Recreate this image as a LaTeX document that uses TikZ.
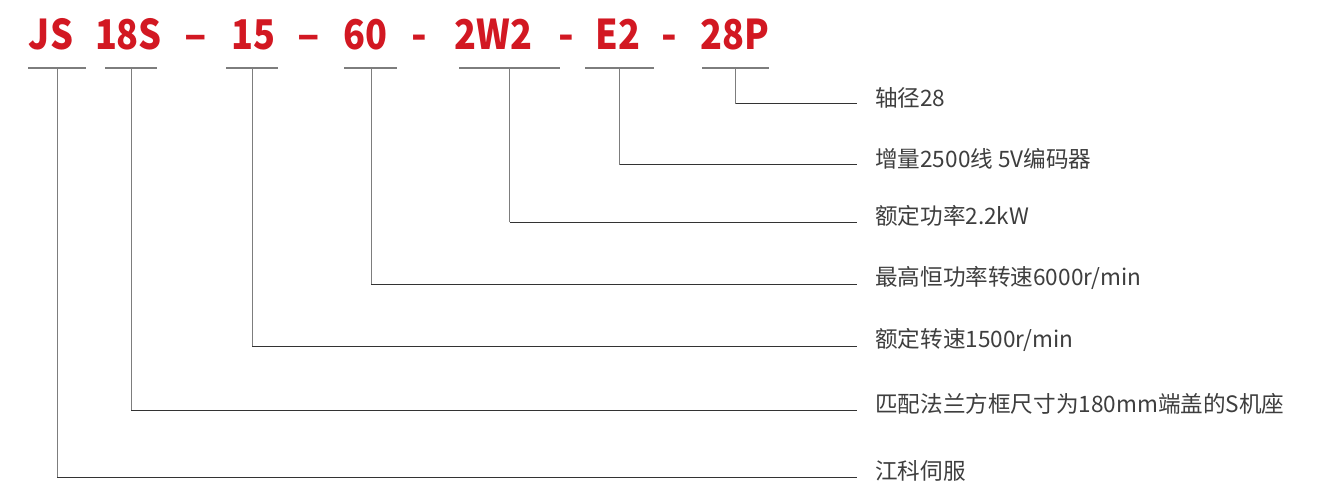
\documentclass[tikz,border=0pt]{standalone}
\usepackage{fontspec}
\usepackage{graphicx}
\usetikzlibrary{positioning}
\newfontfamily\cjk{Noto Sans CJK SC}
\definecolor{codered}{RGB}{210,24,34}
\definecolor{labelgray}{RGB}{62,62,62}
\definecolor{rulegray}{RGB}{125,125,125}
\newcommand{\narrow}[1]{\scalebox{0.88}[1]{#1}}

\begin{document}
\begin{tikzpicture}[x=1pt,y=-1pt,
    code/.style={anchor=base,inner sep=0pt,text=codered,font=\cjk\bfseries\fontsize{41}{41}\selectfont},
    lbl/.style={anchor=west,inner sep=0pt,text=labelgray,font=\cjk\fontsize{22.6}{22.6}\selectfont},
    under/.style={rulegray,line width=1.5pt},
    drop/.style={rulegray,line width=1pt},
    lead/.style={black!80,line width=1pt}]
    \useasboundingbox (0,0) rectangle (1319,497);

    % Model code
    \node[code] (cjs)  at (51,50)    {\narrow{JS}};
    \node[code] (cfr)  at (128.5,50) {\narrow{18S}};
    \node[code] (d1)   at (195.5,50) {–};
    \node[code] (crs)  at (253.5,50) {\narrow{15}};
    \node[code] (d2)   at (309,50)   {–};
    \node[code] (cmx)  at (365.5,50) {\narrow{60}};
    \node[code] (d3)   at (419.5,50) {-};
    \node[code] (cpw)  at (493.5,50) {\narrow{2W2}};
    \node[code] (d4)   at (566.5,50) {-};
    \node[code] (cenc) at (618,50)   {\narrow{E2}};
    \node[code] (d5)   at (669.5,50) {-};
    \node[code] (csh)  at (735,50)   {\narrow{28P}};

    % Underlines
    \draw[under] (28,68) -- (86,68);
    \draw[under] (105,68) -- (157,68);
    \draw[under] (226,68) -- (278,68);
    \draw[under] (344,68) -- (397,68);
    \draw[under] (459,68) -- (560,68);
    \draw[under] (585,68) -- (654,68);
    \draw[under] (702,68) -- (769,68);
    \coordinate (ujs)  at (57,68);
    \coordinate (ufr)  at (131,68);
    \coordinate (urs)  at (252,68);
    \coordinate (umx)  at (371,68);
    \coordinate (upw)  at (509.5,68);
    \coordinate (uenc) at (619.5,68);
    \coordinate (ush)  at (735.5,68);

    % Line ends and labels
    \coordinate (esh)  at (857,104);
    \coordinate (eenc) at (857,165);
    \coordinate (epw)  at (857,222);
    \coordinate (emx)  at (857,284);
    \coordinate (ers)  at (857,346);
    \coordinate (efr)  at (857,410);
    \coordinate (ejs)  at (857,477);
    \node[lbl, right=18pt of esh,  yshift=6pt] (lsh)  {轴径28};
    \node[lbl, right=18pt of eenc, yshift=6pt] (lenc) {增量2500线 5V编码器};
    \node[lbl, right=18pt of epw,  yshift=6pt] (lpw)  {额定功率2.2kW};
    \node[lbl, right=18pt of emx,  yshift=6pt] (lmx)  {最高恒功率转速6000r/min};
    \node[lbl, right=18pt of ers,  yshift=6pt] (lrs)  {额定转速1500r/min};
    \node[lbl, right=18pt of efr,  yshift=6pt] (lfr)  {匹配法兰方框尺寸为180mm端盖的S机座};
    \node[lbl, right=18pt of ejs,  yshift=6pt] (ljs)  {江科伺服};

    % Leaders: down from each underline, then right to its label
    \draw[drop] (ush) -- (ush |- esh);    \draw[lead] (ush |- esh) -- (esh);
    \draw[drop] (uenc) -- (uenc |- eenc); \draw[lead] (uenc |- eenc) -- (eenc);
    \draw[drop] (upw) -- (upw |- epw);    \draw[lead] (upw |- epw) -- (epw);
    \draw[drop] (umx) -- (umx |- emx);    \draw[lead] (umx |- emx) -- (emx);
    \draw[drop] (urs) -- (urs |- ers);    \draw[lead] (urs |- ers) -- (ers);
    \draw[drop] (ufr) -- (ufr |- efr);    \draw[lead] (ufr |- efr) -- (efr);
    \draw[drop] (ujs) -- (ujs |- ejs);    \draw[lead] (ujs |- ejs) -- (ejs);
\end{tikzpicture}
\end{document}
